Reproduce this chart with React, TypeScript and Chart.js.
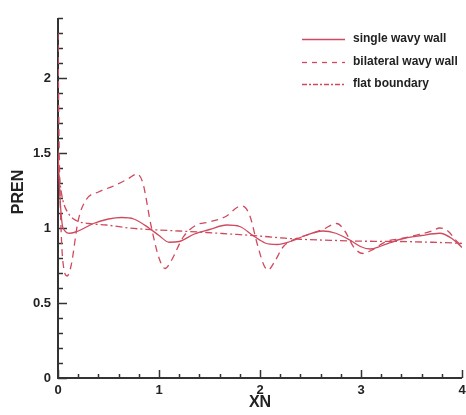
import React, { useEffect, useRef } from "react";
import { Chart, registerables } from "chart.js";

Chart.register(...registerables);

// ---- data ----
const SINGLE_X = [0, 0.02, 0.05, 0.12, 0.2, 0.35, 0.5, 0.63, 0.75, 0.9, 1.0, 1.1, 1.2, 1.35, 1.5, 1.67, 1.8, 1.93, 2.05, 2.17, 2.3, 2.45, 2.62, 2.75, 2.89, 3.0, 3.09, 3.2, 3.39, 3.6, 3.78, 3.9, 4.0];
const SINGLE_Y = [1.52, 1.2, 1.0, 0.965, 0.98, 1.03, 1.06, 1.07, 1.06, 1.0, 0.95, 0.905, 0.91, 0.96, 0.99, 1.02, 1.01, 0.95, 0.9, 0.89, 0.91, 0.95, 0.98, 0.965, 0.92, 0.875, 0.86, 0.88, 0.925, 0.95, 0.965, 0.93, 0.87];

const BILATERAL_X = [0, 0.01, 0.03, 0.06, 0.09, 0.13, 0.2, 0.28, 0.4, 0.55, 0.7, 0.78, 0.84, 0.92, 1.0, 1.06, 1.12, 1.24, 1.37, 1.5, 1.67, 1.78, 1.83, 1.9, 1.97, 2.04, 2.08, 2.14, 2.23, 2.36, 2.5, 2.62, 2.76, 2.84, 2.93, 3.02, 3.1, 3.25, 3.4, 3.55, 3.7, 3.78, 3.86, 3.95, 4.0];
const BILATERAL_Y = [2.3, 1.6, 1.0, 0.72, 0.68, 0.75, 1.05, 1.19, 1.24, 1.28, 1.33, 1.36, 1.3, 1.02, 0.8, 0.73, 0.78, 0.94, 1.02, 1.04, 1.08, 1.14, 1.145, 1.08, 0.9, 0.75, 0.72, 0.77, 0.875, 0.93, 0.96, 0.99, 1.03, 0.98, 0.87, 0.83, 0.85, 0.91, 0.93, 0.953, 0.98, 1.0, 0.98, 0.91, 0.88];

const FLAT_X = [0, 0.02, 0.05, 0.1, 0.18, 0.3, 0.48, 0.7, 0.91, 1.2, 1.47, 1.7, 1.93, 2.2, 2.4, 2.7, 2.92, 3.39, 3.7, 4.0];
const FLAT_Y = [1.45, 1.3, 1.18, 1.1, 1.05, 1.03, 1.02, 1.0, 0.99, 0.98, 0.97, 0.96, 0.95, 0.935, 0.925, 0.918, 0.913, 0.91, 0.905, 0.898];

const SERIES_NAMES = ["single wavy wall", "bilateral wavy wall", "flat boundary"];
const Y_TICKS = [0, 0.5, 1, 1.5, 2];
const X_TICKS = [0, 1, 2, 3, 4];

const LINE_COLOR = "#cf4a5e";
const DASHES: number[][] = [[], [7, 5], [7, 3, 2, 3]];

const toPts = (xs: number[], ys: number[]) => xs.map((x, i) => ({ x, y: ys[i] }));

const axisPlugin = {
  id: "axisDeco",
  beforeDatasetsDraw(chart: any) {
    const { ctx, chartArea, scales } = chart;
    const xs = scales.x;
    const ys = scales.y;
    ctx.save();
    ctx.strokeStyle = "#333";
    ctx.lineWidth = 2;
    ctx.beginPath();
    ctx.moveTo(chartArea.left, chartArea.top);
    ctx.lineTo(chartArea.left, chartArea.bottom);
    ctx.lineTo(chartArea.right, chartArea.bottom);
    ctx.stroke();
    ctx.lineWidth = 1.5;
    // y ticks
    for (let i = 0; i <= 24; i++) {
      const v = i / 10;
      const py = Math.round(ys.getPixelForValue(v)) + 0.5;
      const major = i % 5 === 0;
      ctx.beginPath();
      ctx.moveTo(chartArea.left, py);
      ctx.lineTo(chartArea.left + (major ? 9 : 5), py);
      ctx.stroke();
    }
    // x ticks
    for (let i = 0; i <= 20; i++) {
      const v = i / 5;
      const px = Math.round(xs.getPixelForValue(v)) + 0.5;
      const major = i % 5 === 0;
      ctx.beginPath();
      ctx.moveTo(px, chartArea.bottom);
      ctx.lineTo(px, chartArea.bottom - (major ? 8 : 4));
      ctx.stroke();
    }
    ctx.restore();
  },
  afterDraw(chart: any) {
    const { ctx, chartArea } = chart;
    ctx.save();
    ctx.fillStyle = "#222";
    ctx.font = "bold 16px 'Liberation Sans', Arial, sans-serif";
    ctx.textAlign = "center";
    ctx.textBaseline = "middle";
    ctx.fillText("XN", (chartArea.left + chartArea.right) / 2, 403);
    ctx.save();
    ctx.translate(19, 192);
    ctx.rotate(-Math.PI / 2);
    ctx.fillText("PREN", 0, 0);
    ctx.restore();
    // legend
    const rows = [39, 62, 84];
    ctx.font = "bold 12px 'Liberation Sans', Arial, sans-serif";
    ctx.textAlign = "left";
    SERIES_NAMES.forEach((name, i) => {
      ctx.strokeStyle = LINE_COLOR;
      ctx.lineWidth = 1.3;
      ctx.setLineDash(i === 2 ? [5, 2, 2, 2] : DASHES[i].length ? [5, 5] : []);
      ctx.beginPath();
      ctx.moveTo(302, rows[i] + 0.5);
      ctx.lineTo(345, rows[i] + 0.5);
      ctx.stroke();
      ctx.setLineDash([]);
      ctx.fillStyle = "#222";
      ctx.fillText(name, 353, rows[i]);
    });
    ctx.restore();
  },
};

export default function App() {
  const ref = useRef<HTMLCanvasElement | null>(null);
  useEffect(() => {
    if (!ref.current) return;
    const tickFont = { family: "'Liberation Sans', Arial, sans-serif", weight: "bold" as const, size: 13 };
    const chart = new Chart(ref.current, {
      type: "line",
      data: {
        datasets: [
          { label: SERIES_NAMES[0], data: toPts(SINGLE_X, SINGLE_Y), borderDash: DASHES[0] },
          { label: SERIES_NAMES[1], data: toPts(BILATERAL_X, BILATERAL_Y), borderDash: DASHES[1] },
          { label: SERIES_NAMES[2], data: toPts(FLAT_X, FLAT_Y), borderDash: DASHES[2] },
        ].map((d) => ({
          ...d,
          borderColor: LINE_COLOR,
          borderWidth: 1.3,
          pointRadius: 0,
          fill: false,
          cubicInterpolationMode: "monotone" as const,
        })),
      },
      options: {
        responsive: false,
        animation: false,
        layout: { padding: { top: 18, right: 4, left: 0, bottom: 0 } },
        plugins: { legend: { display: false }, tooltip: { enabled: false } },
        scales: {
          x: {
            type: "linear",
            min: 0,
            max: 4,
            grid: { display: false, drawTicks: false },
            border: { display: false },
            afterBuildTicks: (s: any) => {
              s.ticks = X_TICKS.map((v) => ({ value: v }));
            },
            afterFit: (s: any) => {
              s.height = 37;
              s.paddingRight = 0;
              s.paddingLeft = 0;
            },
            ticks: { font: tickFont, color: "#222", padding: 5, maxRotation: 0 },
          },
          y: {
            type: "linear",
            min: 0,
            max: 2.4,
            grid: { display: false, drawTicks: false },
            border: { display: false },
            afterBuildTicks: (s: any) => {
              s.ticks = Y_TICKS.map((v) => ({ value: v }));
            },
            afterFit: (s: any) => {
              s.width = 58;
              s.paddingTop = 0;
              s.paddingBottom = 0;
            },
            ticks: { font: tickFont, color: "#222", padding: 7, callback: (v: any) => String(v) },
          },
        },
      },
      plugins: [axisPlugin],
    });
    return () => chart.destroy();
  }, []);
  return (
    <div style={{ position: "fixed", left: 0, top: 0, width: 466, height: 415, background: "#fff" }}>
      <canvas ref={ref} width={466} height={415} style={{ display: "block" }} />
    </div>
  );
}
